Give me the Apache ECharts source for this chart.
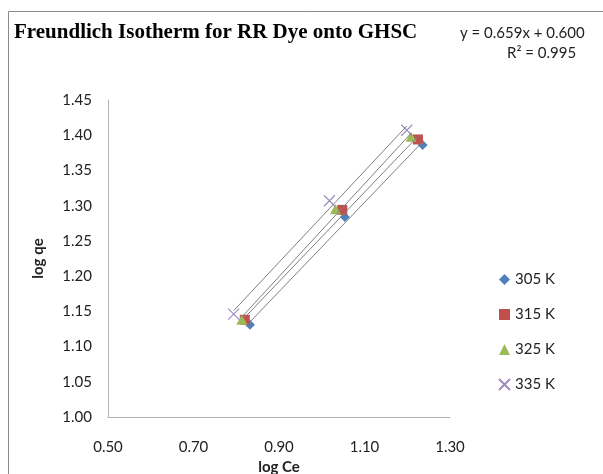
<!DOCTYPE html>
<html>
<head>
<meta charset="utf-8">
<script src="https://cdn.jsdelivr.net/npm/echarts@6/dist/echarts.min.js"></script>
<style>
  html, body { margin: 0; padding: 0; background: #fff; }
  #chart { width: 603px; height: 474px; }
</style>
</head>
<body>
<div id="chart"></div>
<script>
// Freundlich isotherm: log qe against log Ce at four temperatures
const seriesNames = ['305 K', '315 K', '325 K', '335 K'];
const logCe305 = [0.832, 1.054, 1.236];
const logQe305 = [1.131, 1.284, 1.386];
const logCe315 = [0.820, 1.048, 1.225];
const logQe315 = [1.138, 1.294, 1.394];
const logCe325 = [0.813, 1.032, 1.209];
const logQe325 = [1.138, 1.295, 1.398];
const logCe335 = [0.794, 1.018, 1.199];
const logQe335 = [1.146, 1.307, 1.407];
const xTicks = [0.50, 0.70, 0.90, 1.10, 1.30];
const yTicks = [1.00, 1.05, 1.10, 1.15, 1.20, 1.25, 1.30, 1.35, 1.40, 1.45];
const equationText = 'y = 0.659x + 0.600';
const r2Text = 'R² = 0.995';

const xs = [logCe305, logCe315, logCe325, logCe335];
const ys = [logQe305, logQe315, logQe325, logQe335];
const colors = ['#4F81BD', '#C0504D', '#9BBB59', '#8064A2'];
const symbols = ['diamond', 'rect', 'triangle', 'path://M0,0L10,10M10,0L0,10'];
const symbolSizes = [[10, 10], [10, 10], [11, 10], [11, 11]];

// least-squares line through each temperature's points
function fit(x, y) {
  const n = x.length;
  const mx = x.reduce((a, b) => a + b, 0) / n;
  const my = y.reduce((a, b) => a + b, 0) / n;
  let sxy = 0, sxx = 0;
  for (let i = 0; i < n; i++) { sxy += (x[i] - mx) * (y[i] - my); sxx += (x[i] - mx) ** 2; }
  const m = sxy / sxx;
  const b = my - m * mx;
  const x0 = Math.min(...x), x1 = Math.max(...x);
  return [[x0, m * x0 + b], [x1, m * x1 + b]];
}

const font = 'Lato, "Open Sans", sans-serif';
const series = [];
seriesNames.forEach((name, i) => {
  const isCross = i === 3;
  series.push({
    name: name,
    type: 'scatter',
    data: xs[i].map((v, k) => [v, ys[i][k]]),
    symbol: symbols[i],
    symbolSize: symbolSizes[i],
    z: 2 + i,
    itemStyle: isCross
      ? { color: 'transparent', borderColor: '#9F8CC0', borderWidth: 1.2, opacity: 1 }
      : { color: colors[i], opacity: 1 }
  });
});
seriesNames.forEach((name, i) => {
  series.push({
    name: name + ' trend',
    type: 'line',
    data: fit(xs[i], ys[i]),
    symbol: 'none',
    z: 10,
    silent: true,
    lineStyle: { color: '#7f7f7f', width: 1 }
  });
});

const chart = echarts.init(document.getElementById('chart'), null, { renderer: 'canvas' });
chart.setOption({
  animation: false,
  backgroundColor: '#ffffff',
  grid: { left: 108, top: 100, width: 342, height: 317, containLabel: false, outerBoundsMode: 'none' },
  xAxis: {
    type: 'value',
    min: xTicks[0], max: xTicks[xTicks.length - 1], interval: 0.2,
    name: 'log Ce', nameLocation: 'middle', nameGap: 40,
    nameTextStyle: { fontFamily: font, fontSize: 15, fontWeight: 'bold', color: '#222' },
    axisLine: { lineStyle: { color: '#b5b5b5', width: 1 } },
    axisTick: { show: false },
    splitLine: { show: false },
    axisLabel: { fontFamily: font, fontSize: 15, color: '#222', margin: 23, formatter: v => v.toFixed(2) }
  },
  yAxis: {
    type: 'value',
    min: yTicks[0], max: yTicks[yTicks.length - 1], interval: 0.05,
    name: 'log qe', nameLocation: 'middle', nameGap: 62, nameRotate: 90,
    nameTextStyle: { fontFamily: font, fontSize: 15, fontWeight: 'bold', color: '#222' },
    axisLine: { show: true, lineStyle: { color: '#b5b5b5', width: 1 } },
    axisTick: { show: false },
    splitLine: { show: false },
    axisLabel: { fontFamily: font, fontSize: 15, color: '#222', margin: 16, formatter: v => v.toFixed(2) }
  },
  legend: {
    data: seriesNames.map((n, i) => ({ name: n, icon: symbols[i] })),
    orient: 'vertical',
    left: 493, top: 267,
    itemWidth: 11, itemHeight: 11, itemGap: 20,
    textStyle: { fontFamily: font, fontSize: 15, color: '#222' }
  },
  graphic: [
    { type: 'rect', shape: { x: 8.5, y: 11.5, width: 700, height: 600 },
      style: { fill: 'none', stroke: '#8a8a8a', lineWidth: 1 }, silent: true },
    { type: 'text', left: 14, top: 22,
      style: { text: 'Freundlich Isotherm for RR Dye onto GHSC',
               font: 'bold 21px "Liberation Serif", "Times New Roman", serif', fill: '#000' } },
    { type: 'text', left: 460, top: 26,
      style: { text: equationText, font: '15px ' + font, fill: '#222' } },
    { type: 'text', left: 507, top: 46,
      style: { text: r2Text, font: '15px ' + font, fill: '#222' } }
  ],
  series: series
});
</script>
</body>
</html>
